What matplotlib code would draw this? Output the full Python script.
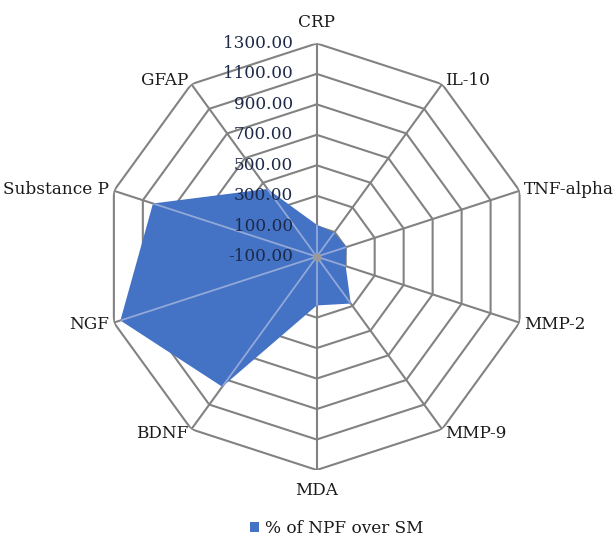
import numpy as np
import matplotlib
matplotlib.use('Agg')
import matplotlib.pyplot as plt
from matplotlib.patches import Patch
from matplotlib.transforms import offset_copy

# Data
categories = ['CRP', 'IL-10', 'TNF-alpha', 'MMP-2', 'MMP-9', 'MDA',
              'BDNF', 'NGF', 'Substance P', 'GFAP']
npf_over_sm = [110, 95, 105, 100, 280, 220, 955, 1255, 1030, 450]
series_name = '% of NPF over SM'

# Radial scale
r_min, r_max = -100, 1300
ring_values = [100, 300, 500, 700, 900, 1100, 1300]
ring_labels = ['-100.00', '100.00', '300.00', '500.00', '700.00',
               '900.00', '1100.00', '1300.00']

fill_color = '#4472C4'
grid_color = '#828282'
label_color = '#1a1a1a'
tick_color = '#1c2948'

plt.rcParams['font.family'] = 'DejaVu Serif'
fs = 12.2

fig = plt.figure(figsize=(6.16, 5.39), dpi=100)
ax = fig.add_axes([0.1679, 0.128, 0.6925, 0.7915], projection='polar')
ax.set_theta_offset(np.pi / 2)
ax.set_theta_direction(-1)
ax.set_ylim(r_min, r_max)

n = len(categories)
theta = np.linspace(0, 2 * np.pi, n, endpoint=False)
theta_closed = np.append(theta, theta[0])

# polygon rings
for v in ring_values:
    ax.plot(theta_closed, [v] * (n + 1), color=grid_color, lw=1.5, zorder=1)

# spokes
for t in theta:
    ax.plot([t, t], [r_min, r_max], color=grid_color, lw=1.5, zorder=1)

# filled series
vals = np.append(npf_over_sm, npf_over_sm[0])
poly = ax.fill(theta_closed, vals, color=fill_color, zorder=2, lw=0)[0]

# lighter spokes seen through the fill
for t in theta:
    ln, = ax.plot([t, t], [r_min, r_max], color='#92a8d8', lw=1.3, zorder=3)
    ln.set_clip_path(poly)

ax.plot([0], [r_min], 'o', color='#9a9a9a', ms=5, zorder=4)

# category labels
for t, name in zip(theta, categories):
    s, c = np.sin(t), np.cos(t)
    if s > 0.1:
        ha = 'left'
    elif s < -0.1:
        ha = 'right'
    else:
        ha = 'center'
    dx, dy = 5 * s, 5 * c
    if abs(s) < 0.1:
        dy = 21 * np.sign(c)
    tr = offset_copy(ax.transData, fig=fig, x=dx, y=dy, units='dots')
    ax.text(t, r_max, name, transform=tr, ha=ha, va='center',
            fontsize=fs, color=label_color)

# radial value labels
tr = offset_copy(ax.transData, fig=fig, x=-24, y=0, units='dots')
for v, lab in zip([r_min] + ring_values, ring_labels):
    ax.text(0, v, lab, transform=tr, ha='right', va='center',
            fontsize=fs, color=tick_color, zorder=5)

ax.set_xticks([])
ax.set_yticks([])
ax.grid(False)
ax.spines['polar'].set_visible(False)
ax.patch.set_visible(False)

fig.legend(handles=[Patch(facecolor=fill_color, label=series_name)],
           loc='center', bbox_to_anchor=(0.546, 0.019), frameon=False,
           handlelength=0.55, handleheight=0.55, handletextpad=0.35,
           fontsize=fs, labelcolor=label_color)

fig.savefig('out.png', dpi=100, facecolor='white')
